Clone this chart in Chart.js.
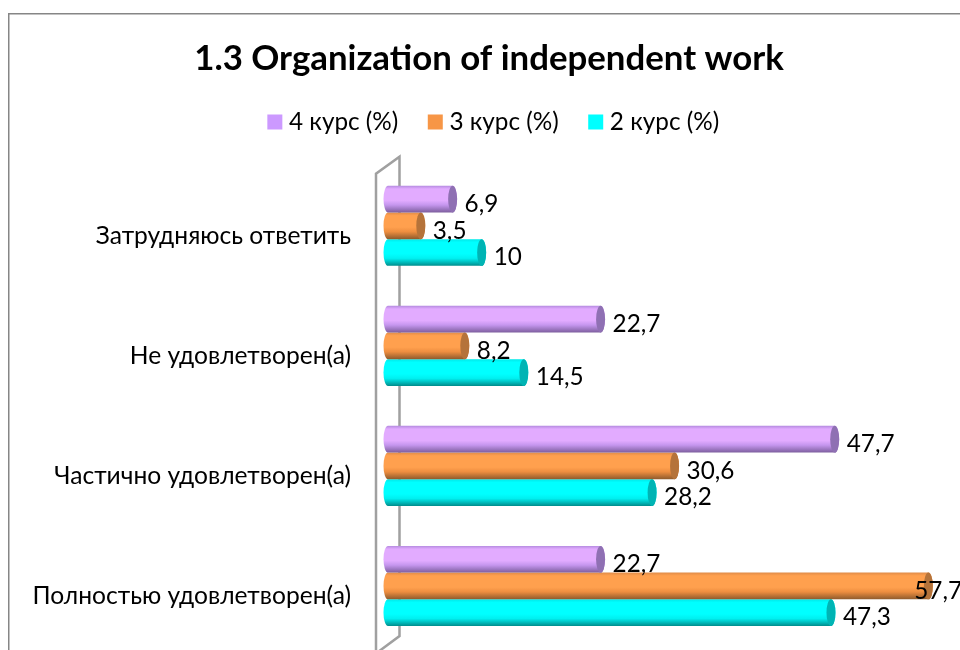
<!DOCTYPE html>
<html>
<head>
<meta charset="utf-8">
<script src="https://cdn.jsdelivr.net/npm/chart.js@4"></script>
<style>
html,body{margin:0;padding:0;background:#fff;overflow:hidden;width:960px;height:650px}
#w{position:relative;width:978px;height:650px}
canvas{display:block}
</style>
</head>
<body>
<div id="w"><canvas id="c" width="978" height="650"></canvas></div>
<script>
const categories = ["Затрудняюсь ответить", "Не удовлетворен(а)", "Частично удовлетворен(а)", "Полностью удовлетворен(а)"];
const seriesNames = ["4 курс (%)", "3 курс (%)", "2 курс (%)"];
const course4 = [6.9, 22.7, 47.7, 22.7];
const course3 = [3.5, 8.2, 30.6, 57.7];
const course2 = [10, 14.5, 28.2, 47.3];
const titleText = "1.3 Organization of independent work";
const FONT = "Lato, 'Noto Sans', sans-serif";

const shades = {
  "#CC99FF": {top:"#B58BE0", hi:"#E2ABFF", low:"#C596EE", bot:"#7D5E9E", cap:"#8F70B3"},
  "#F79646": {top:"#E08C48", hi:"#FFA04E", low:"#EE8E40", bot:"#8E5A2C", cap:"#B5733A"},
  "#00FFFF": {top:"#00E8E8", hi:"#00FFFF", low:"#00F0F0", bot:"#008C8C", cap:"#00B4B4"}
};
const RX = 4.5;

class CylinderBar extends Chart.BarElement {
  draw(ctx) {
    const {x, y, base, height} = this.getProps(['x','y','base','height']);
    const s = shades[this.options.backgroundColor] || shades["#00FFFF"];
    const t = y - height/2, b = y + height/2, ry = height/2;
    const right = x, left = base;
    const g = ctx.createLinearGradient(0, t, 0, b);
    g.addColorStop(0, s.top);
    g.addColorStop(0.12, s.hi);
    g.addColorStop(0.55, s.hi);
    g.addColorStop(0.72, s.low);
    g.addColorStop(1, s.bot);
    ctx.save();
    ctx.beginPath();
    ctx.moveTo(left, t);
    ctx.lineTo(right, t);
    ctx.ellipse(right, y, RX, ry, 0, -Math.PI/2, Math.PI/2);
    ctx.lineTo(left, b);
    ctx.ellipse(left, y, RX, ry, 0, Math.PI/2, Math.PI*1.5);
    ctx.closePath();
    ctx.fillStyle = g;
    ctx.fill();
    ctx.beginPath();
    ctx.ellipse(right, y, RX, ry, 0, 0, Math.PI*2);
    ctx.fillStyle = s.cap;
    ctx.fill();
    ctx.restore();
  }
}
CylinderBar.id = 'cylinderBar';
CylinderBar.defaults = Chart.BarElement.defaults;
class CylinderController extends Chart.BarController {}
CylinderController.id = 'cylinder';
CylinderController.defaults = Object.assign({}, Chart.BarController.defaults, {dataElementType: 'cylinderBar'});
CylinderController.overrides = Chart.BarController.overrides;
Chart.register(CylinderBar, CylinderController);

const frame = {
  id: 'frame',
  beforeUpdate(chart) {
    const lg = chart.legend;
    if (lg && !lg._patched) {
      const f = lg.fit;
      lg.fit = function () { f.call(this); this.height = 91; };
      lg._patched = true;
    }
  },
  afterLayout(chart) {
    chart.legend.left += 7;
    chart.legend.right += 7;
  },
  beforeDraw(chart) {
    const c = chart.ctx;
    c.save();
    c.fillStyle = '#868686';
    c.fillRect(8, 13, chart.width, 1.5);
    c.fillRect(8, 13, 1.5, chart.height);
    c.restore();
  },
  beforeDatasetsDraw(chart) {
    const c = chart.ctx, a = chart.chartArea;
    c.save();
    c.strokeStyle = '#A0A0A0';
    c.lineWidth = 2.5;
    c.lineJoin = 'miter';
    c.beginPath();
    c.moveTo(a.left - 12, chart.height + 5);
    c.lineTo(a.left - 12, a.top + 8);
    c.lineTo(a.left + 11.5, a.top - 9);
    c.lineTo(a.left + 11.5, a.bottom - 10);
    c.lineTo(a.left - 10, a.bottom + 6);
    c.stroke();
    c.restore();
  }
};
const valueLabels = {
  id: 'valueLabels',
  afterDatasetsDraw(chart) {
    const c = chart.ctx;
    c.save();
    c.font = "24.3px " + FONT;
    c.fillStyle = '#000';
    c.textAlign = 'left';
    c.textBaseline = 'middle';
    chart.data.datasets.forEach((ds, i) => {
      chart.getDatasetMeta(i).data.forEach((el, j) => {
        const txt = String(ds.data[j]).replace('.', ',');
        const w = c.measureText(txt).width;
        c.fillText(txt, Math.min(el.x + 12, 962 - w), el.y + 5);
      });
    });
    c.restore();
  }
};

new Chart(document.getElementById('c'), {
  type: 'cylinder',
  data: {
    labels: categories,
    datasets: [
      {label: seriesNames[0], data: course4, backgroundColor: "#CC99FF", clip: false},
      {label: seriesNames[1], data: course3, backgroundColor: "#F79646", clip: false},
      {label: seriesNames[2], data: course2, backgroundColor: "#00FFFF", clip: false}
    ]
  },
  plugins: [frame, valueLabels],
  options: {
    indexAxis: 'y',
    responsive: false,
    animation: false,
    categoryPercentage: 0.667,
    barPercentage: 1,
    layout: {padding: {left: 0, right: 0, top: 0, bottom: 4}},
    scales: {
      x: {display: false, min: 0, max: 63},
      y: {
        offset: true,
        grid: {display: false, drawTicks: false},
        border: {display: false},
        ticks: {color: '#000', font: {family: FONT, size: 24.6}, padding: 37, autoSkip: false, labelOffset: 10},
        afterFit(scale) { scale.width = 388; scale.paddingTop = 0; scale.paddingBottom = 0; }
      }
    },
    plugins: {
      title: {display: true, text: titleText, color: '#000', font: {family: FONT, size: 34.8, weight: 'bold'}, padding: {top: 38, bottom: -5}},
      legend: {
        display: true, position: 'top',
        labels: {color: '#000', font: {family: FONT, size: 24.3}, usePointStyle: true, pointStyle: 'rect', boxWidth: 4, boxHeight: 15, padding: 35}
      },
      tooltip: {enabled: false}
    }
  }
});
</script>
</body>
</html>
